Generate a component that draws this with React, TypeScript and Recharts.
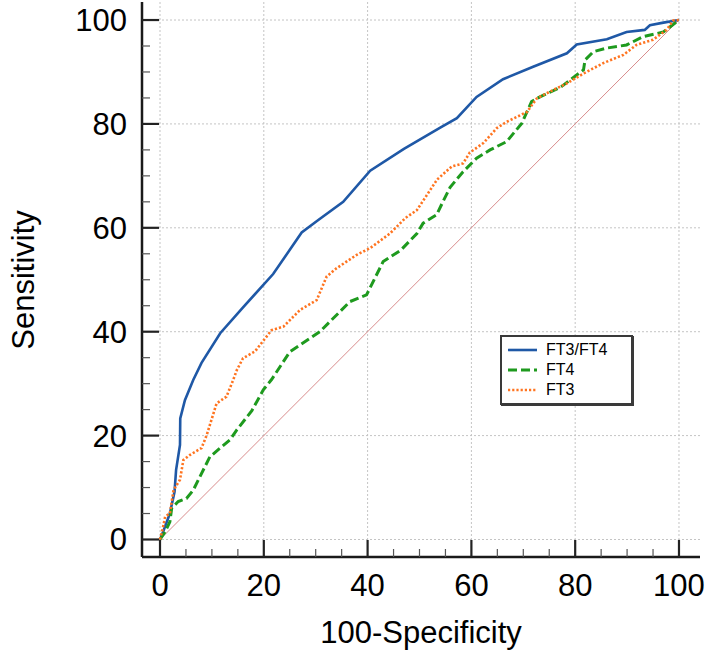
import React from 'react';
import { LineChart, Line, XAxis, YAxis, CartesianGrid, Legend } from 'recharts';

const FONT = '"Liberation Sans", Arial, sans-serif';

const axisTicks = [0, 5, 10, 15, 20, 25, 30, 35, 40, 45, 50, 55, 60, 65, 70, 75, 80, 85, 90, 95, 100];
const gridTicks = [0, 20, 40, 60, 80, 100];

const ft3ft4Points: number[][] = [
  [0, 0], [0.6, 1.5], [1.9, 5], [2.8, 9.2], [3.1, 13.4], [3.85, 18.2], [3.9, 23.3], [4.8, 26.8],
  [6.4, 30.7], [8, 34], [11.6, 39.7], [16, 44.7], [21.8, 51.1], [27.3, 59.1], [30.5, 61.5],
  [35.3, 65], [40.5, 71], [47, 75.2], [54, 79.3], [57.2, 81.1], [61, 85.2], [66.1, 88.6],
  [71.9, 91], [78.4, 93.6], [80.3, 95.3], [86.1, 96.3], [89.9, 97.7], [93.4, 98.1], [94.4, 99],
  [97, 99.5], [100, 100],
];

const ft4Points: number[][] = [
  [0, 0], [1, 1.5], [1.9, 3.4], [2.25, 6], [3.5, 7.3], [5.1, 7.9], [6.4, 9.5], [7.7, 12.1],
  [9.6, 15.9], [11.6, 17.6], [13.5, 19.2], [14.8, 21.1], [17.7, 24.8], [19.9, 28.8], [21.5, 30.8],
  [25, 36.1], [30.8, 40], [36.6, 45.8], [39.8, 47.1], [43, 53.5], [46.4, 55.7], [49.5, 58.9],
  [50.7, 60.9], [53.3, 62.5], [54.5, 65], [55.9, 67.8], [58.4, 70.8], [61, 73.4], [63.6, 75],
  [66.8, 76.6], [69.7, 80.1], [71.6, 84.3], [73.2, 85.2], [77.1, 87], [79.6, 88.9], [81.6, 90.4],
  [81.9, 92.3], [83.5, 93.9], [86.1, 94.6], [89.9, 95.2], [93.1, 96.8], [97, 97.7], [100, 100],
];

const ft3Points: number[][] = [
  [0, 0], [0.5, 2], [1, 4.4], [1.9, 5], [2.6, 9.5], [3.85, 11.5], [4.5, 15.3], [5.8, 16.3],
  [8, 17.6], [9, 20.1], [10, 23.3], [10.9, 26.2], [12.8, 27.5], [14.1, 30.7], [14.8, 32.6],
  [16, 34.9], [18.3, 36.2], [21.5, 40.3], [23.8, 41], [27, 44.2], [30.2, 46.1], [32.1, 50.6],
  [34, 52.2], [37.9, 54.8], [40.5, 56.1], [44.3, 58.9], [47.3, 61.9], [49.5, 63.4], [50.7, 65.2],
  [53.4, 69.3], [56.2, 71.8], [58.4, 72.4], [59.7, 74.5], [62.3, 76.3], [64.9, 79.2], [66.8, 80.4],
  [70.7, 82.3], [72.6, 84.9], [75.1, 86.2], [78.4, 87.8], [81.6, 89.7], [85.4, 91.7], [89.3, 93.3],
  [91.8, 95.2], [95, 96.2], [97.6, 98.1], [98.9, 99.9], [100, 100],
];

const diagonalPoints: number[][] = [[0, 0], [100, 100]];

const toData = (pts: number[][]) => pts.map(([x, y]) => ({ x, y }));

const series = [
  { name: 'FT3/FT4', data: toData(ft3ft4Points), color: '#1f58a6', dash: undefined as string | undefined, width: 2.6 },
  { name: 'FT4', data: toData(ft4Points), color: '#1e9a1e', dash: '9 4', width: 3 },
  { name: 'FT3', data: toData(ft3Points), color: '#ff7420', dash: '2.2 2', width: 2.6 },
];

const XTick = (props: any) => {
  const { x, y, payload } = props;
  const major = payload.value % 20 === 0;
  return (
    <g>
      <line x1={x} x2={x} y1={y} y2={y - (major ? 17 : 8)} stroke={major ? '#222' : '#555'} strokeWidth={major ? 2.2 : 1.2} />
      {major && (
        <text x={x} y={y + 39} textAnchor="middle" fontSize={31} fontFamily={FONT} fill="#000">
          {payload.value}
        </text>
      )}
    </g>
  );
};

const YTick = (props: any) => {
  const { x, y, payload } = props;
  const major = payload.value % 20 === 0;
  return (
    <g>
      <line x1={x} x2={x + (major ? 17 : 8)} y1={y} y2={y} stroke={major ? '#222' : '#555'} strokeWidth={major ? 2.2 : 1.2} />
      {major && (
        <text x={x - 15} y={y + 11} textAnchor="end" fontSize={31} fontFamily={FONT} fill="#000">
          {payload.value}
        </text>
      )}
    </g>
  );
};

const LegendBox = () => (
  <div
    style={{
      border: '2px solid #3a3a3a',
      boxShadow: '1px 1px 0 #3a3a3a',
      background: '#fff',
      width: 129,
      height: 63,
      boxSizing: 'content-box',
      paddingTop: 3,
      fontFamily: FONT,
    }}
  >
    {series.map((s) => (
      <div key={s.name} style={{ display: 'flex', alignItems: 'center', height: 20 }}>
        <svg width={44} height={20} style={{ flex: 'none' }}>
          <line x1={6} x2={35} y1={10} y2={10} stroke={s.color} strokeWidth={s.width} strokeDasharray={s.dash} />
        </svg>
        <span style={{ fontSize: 16, color: '#000', lineHeight: '20px' }}>{s.name}</span>
      </div>
    ))}
  </div>
);

export default function App() {
  return (
    <div style={{ position: 'absolute', left: 0, top: 0, width: 708, height: 657, background: '#fff' }}>
      <LineChart width={708} height={657} margin={{ top: 2, right: 8, bottom: 0, left: 0 }}>
        <CartesianGrid
          verticalValues={gridTicks}
          horizontalValues={gridTicks}
          stroke="#c4c4c4"
          strokeDasharray="2 2"
        />
        <XAxis
          type="number"
          dataKey="x"
          domain={[-3.47, 104.05]}
          allowDataOverflow
          ticks={axisTicks}
          interval={0}
          tickSize={0}
          tickMargin={0}
          tickLine={false}
          tick={<XTick />}
          height={100}
          axisLine={{ stroke: '#1a1a1a', strokeWidth: 2.5 }}
          label={{
            content: () => (
              <text x={421} y={643} textAnchor="middle" fontSize={31} fontFamily={FONT} fill="#000">
                100-Specificity
              </text>
            ),
          }}
        />
        <YAxis
          type="number"
          dataKey="y"
          domain={[-3.37, 103.47]}
          allowDataOverflow
          ticks={axisTicks}
          interval={0}
          tickSize={0}
          tickMargin={0}
          tickLine={false}
          tick={<YTick />}
          width={142}
          axisLine={{ stroke: '#1a1a1a', strokeWidth: 2.5 }}
          label={{
            content: () => (
              <text transform="translate(34,280) rotate(-90)" textAnchor="middle" fontSize={31} fontFamily={FONT} fill="#000">
                Sensitivity
              </text>
            ),
          }}
        />
        <Line
          data={toData(diagonalPoints)}
          dataKey="y"
          stroke="#d88c8c"
          strokeWidth={1}
          dot={false}
          activeDot={false}
          isAnimationActive={false}
          legendType="none"
        />
        {series.map((s) => (
          <Line
            key={s.name}
            name={s.name}
            data={s.data}
            dataKey="y"
            stroke={s.color}
            strokeWidth={s.width}
            strokeDasharray={s.dash}
            dot={false}
            activeDot={false}
            isAnimationActive={false}
          />
        ))}
        <Legend
          layout="horizontal"
          verticalAlign="middle"
          align="center"
          content={<LegendBox />}
          wrapperStyle={{ left: 500, top: 335, width: 133, height: 70 }}
        />
      </LineChart>
    </div>
  );
}
